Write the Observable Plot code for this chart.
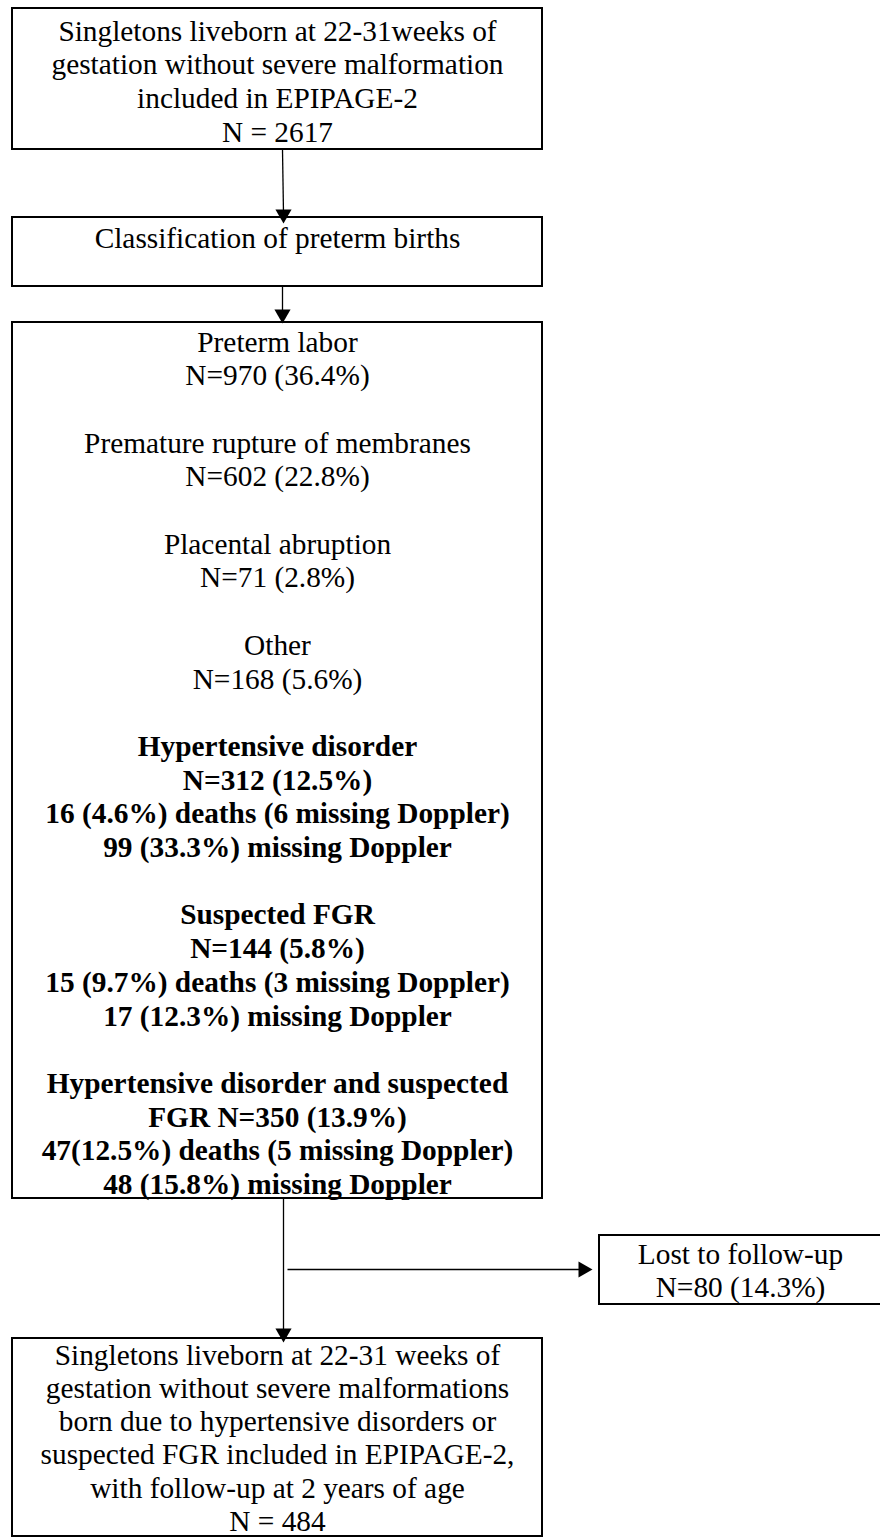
<!DOCTYPE html>
<html>
<head>
<meta charset="utf-8">
<script src="https://cdn.jsdelivr.net/npm/d3@7"></script>
<script src="https://cdn.jsdelivr.net/npm/@observablehq/plot@0.6"></script>
<style>
html, body { margin: 0; padding: 0; background: #fff; }
#chart svg { display: block; }
</style>
</head>
<body>
<div id="chart"></div>
<script>
// ---------- DATA (text content of the flow chart) ----------
const cohortLines = [
  "Singletons liveborn at 22-31weeks of",
  "gestation without severe malformation",
  "included in EPIPAGE-2",
  "N = 2617"
];
const stepLines = ["Classification of preterm births"];
const causeGroups = [
  ["Preterm labor", "N=970 (36.4%)"],
  ["Premature rupture of membranes", "N=602 (22.8%)"],
  ["Placental abruption", "N=71 (2.8%)"],
  ["Other", "N=168 (5.6%)"]
];
const vascularGroups = [
  ["Hypertensive disorder", "N=312 (12.5%)", "16 (4.6%) deaths (6 missing Doppler)", "99 (33.3%) missing Doppler"],
  ["Suspected FGR", "N=144 (5.8%)", "15 (9.7%) deaths (3 missing Doppler)", "17 (12.3%) missing Doppler"],
  ["Hypertensive disorder and suspected", "FGR N=350 (13.9%)", "47(12.5%) deaths (5 missing Doppler)", "48 (15.8%) missing Doppler"]
];
const lostLines = ["Lost to follow-up", "N=80 (14.3%)"];
const finalLines = [
  "Singletons liveborn at 22-31 weeks of",
  "gestation without severe malformations",
  "born due to hypertensive disorders or",
  "suspected FGR included in EPIPAGE-2,",
  "with follow-up at 2 years of age",
  "N = 484"
];

// ---------- LAYOUT ----------
const W = 880, H = 1539;
const FS = 29.33;
const layout = {
  cohort: {x1: 12, x2: 542, y1: 8, y2: 149, first: 40, lh: 33.7},
  step:   {x1: 12, x2: 542, y1: 217, y2: 286, first: 247, lh: 33.7},
  causes: {x1: 12, x2: 542, y1: 322, y2: 1198, first: 351, lh: 33.7},
  lost:   {x1: 599, x2: 882, y1: 1235, y2: 1304, first: 1263, lh: 33.7},
  final:  {x1: 12, x2: 542, y1: 1338, y2: 1536, first: 1364, lh: 33.3}
};
const boxes = Object.entries(layout).map(([id, b]) => ({id, x1: b.x1, x2: b.x2, y1: b.y1, y2: b.y2}));

// build causes box content (groups separated by a blank line)
const causeRows = [];
causeGroups.forEach(g => { g.forEach(t => causeRows.push({text: t, bold: false})); causeRows.push(null); });
vascularGroups.forEach(g => { g.forEach(t => causeRows.push({text: t, bold: true})); causeRows.push(null); });

const textRows = [];
function addRows(id, rows) {
  const b = layout[id];
  const cx = (b.x1 + Math.min(b.x2, W + 1)) / 2;
  rows.forEach((r, i) => {
    if (!r) return;
    const row = typeof r === "string" ? {text: r, bold: false} : r;
    textRows.push({x: cx, y: b.first + i * b.lh, text: row.text, bold: row.bold});
  });
}
addRows("cohort", cohortLines);
addRows("step", stepLines);
addRows("causes", causeRows);
addRows("lost", lostLines);
addRows("final", finalLines);

// connectors: tip positions derived from box edges
const links = [
  {x1: 282, y1: layout.cohort.y2, x2: 283, y2: layout.step.y1 + 6, dir: "down"},
  {x1: 282, y1: layout.step.y2, x2: 282, y2: layout.causes.y1 + 1, dir: "down"},
  {x1: 283, y1: layout.causes.y2, x2: 283, y2: layout.final.y1 + 4, dir: "down"},
  {x1: 287, y1: 1269, x2: layout.lost.x1 - 7, y2: 1269, dir: "right"}
];
const TIP = 9.33;
const heads = links.map(l => l.dir === "down"
  ? {x: l.x2, y: l.y2 - TIP, rot: 180}
  : {x: l.x2 - TIP, y: l.y2, rot: 90});
const lines = links.map(l => l.dir === "down"
  ? {...l, y2: l.y2 - TIP}
  : {...l, x2: l.x2 - TIP});

const font = "'Liberation Serif', 'Times New Roman', Times, serif";

const chart = Plot.plot({
  width: W,
  height: H,
  margin: 0,
  x: {domain: [0, W], range: [0, W], axis: null},
  y: {domain: [0, H], range: [0, H], axis: null},
  style: {background: "white"},
  marks: [
    Plot.rect(boxes, {x1: "x1", x2: "x2", y1: "y1", y2: "y2", fill: "white", stroke: "black", strokeWidth: 2}),
    Plot.link(lines, {x1: "x1", y1: "y1", x2: "x2", y2: "y2", stroke: "black", strokeWidth: 1.3}),
    Plot.dot(heads, {x: "x", y: "y", rotate: "rot", symbol: "triangle", r: 6, fill: "black", stroke: "none"}),
    Plot.text(textRows.filter(d => !d.bold), {
      x: "x", y: "y", text: "text", textAnchor: "middle", lineAnchor: "bottom",
      fontSize: FS, fontFamily: font, fill: "black"
    }),
    Plot.text(textRows.filter(d => d.bold), {
      x: "x", y: "y", text: "text", textAnchor: "middle", lineAnchor: "bottom",
      fontSize: FS, fontFamily: font, fontWeight: "bold", fill: "black"
    })
  ]
});
document.getElementById("chart").appendChild(chart);
</script>
</body>
</html>
